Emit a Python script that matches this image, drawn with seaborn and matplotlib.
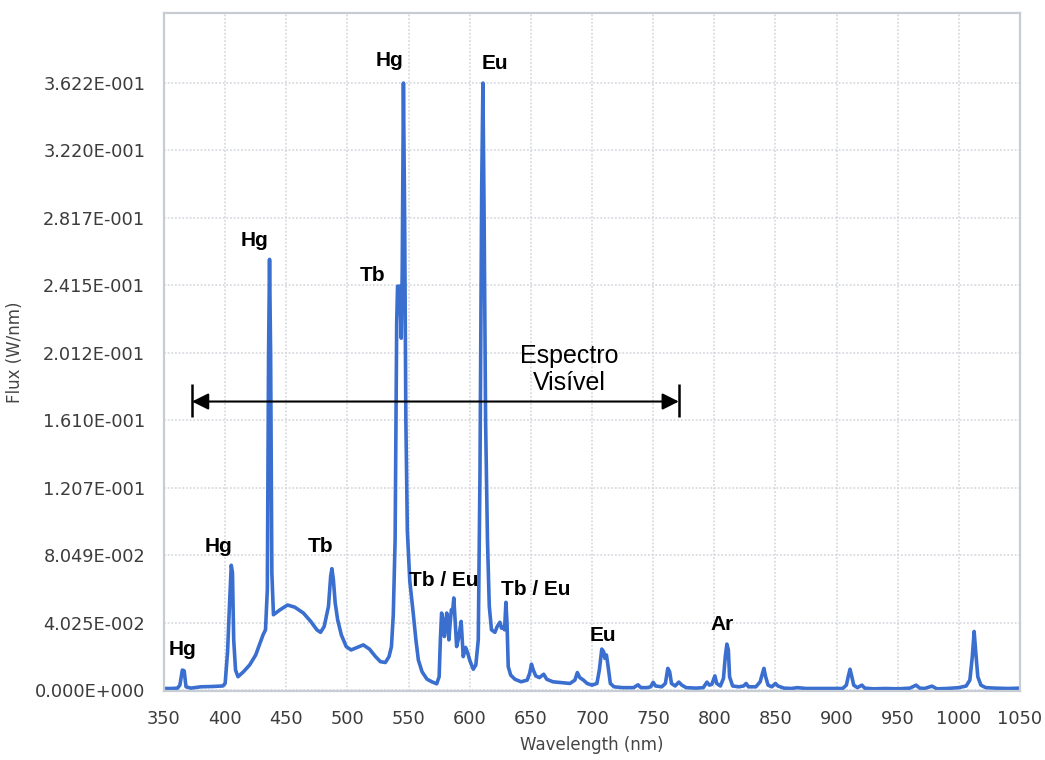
import matplotlib
matplotlib.use("Agg")
import matplotlib.pyplot as plt
import pandas as pd
import seaborn as sns

# ---- data ----
wavelength = [350, 356, 361, 363, 365, 366.5, 368, 372, 380, 390, 398, 400, 402, 403.5, 405, 406, 407, 408.5,
              410.5, 415, 420, 425, 431, 433, 434.5, 435.5, 436.3, 437.2, 438.2, 439.5, 445, 451, 457, 464,
              470, 475, 478, 481, 484.5, 486.3, 487.3, 488.5, 490, 492, 495, 499, 503, 508, 513, 518, 523,
              527, 531, 534, 536, 537.5, 539, 540.3, 541, 542.5, 543.2, 544, 544.8, 545.8, 546.8, 547.8,
              549, 551, 553.5, 556, 558, 561, 565, 569, 573, 575, 576, 577, 578.2, 579.3, 580.3, 581.2,
              582.2, 583, 584, 585, 586, 587, 588, 589.3, 591, 593, 594.7, 596.6, 598.2, 600.2, 602.9,
              605, 607, 608.4, 609.8, 610.8, 611.8, 613, 614.5, 616, 617.8, 620.6, 622.5, 624.7, 626,
              627.4, 628.5, 629.6, 630.5, 631.5, 633.5, 637, 642, 647, 649, 650.5, 652, 654, 657, 660.5,
              663, 668, 675, 682, 686, 688, 690, 693, 696, 700, 704, 706, 708, 709.5, 710.5, 711.8, 713,
              715, 718, 725, 734, 737.6, 740, 745, 748, 750, 752, 757, 760, 762, 763.5, 765, 768, 771,
              773.5, 777, 785, 791, 794, 796, 798, 800.5, 802, 805, 807.5, 809, 810.3, 811.5, 812.5, 815,
              820, 824, 826, 828, 834, 837.5, 839, 840.6, 842, 844, 847, 850, 852, 857, 863, 868, 875,
              890, 905, 908, 909.5, 911, 912.5, 914, 917, 920.7, 923, 930, 940, 950, 960, 965, 968, 972,
              978, 982, 990, 1000, 1006, 1009, 1011, 1012.5, 1014, 1015.5, 1018, 1022, 1030, 1040, 1050]
flux = [0.0010, 0.0010, 0.0012, 0.0030, 0.0120, 0.0115, 0.0020, 0.0012, 0.0020, 0.0022, 0.0025, 0.0040,
        0.0230, 0.0500, 0.0745, 0.0700, 0.0300, 0.0120, 0.0080, 0.0110, 0.0150, 0.0210, 0.0330, 0.0360,
        0.0600, 0.2000, 0.2570, 0.2000, 0.0700, 0.0450, 0.0480, 0.0508, 0.0495, 0.0460, 0.0410, 0.0360,
        0.0345, 0.0380, 0.0500, 0.0680, 0.0725, 0.0660, 0.0520, 0.0420, 0.0330, 0.0260, 0.0240, 0.0255,
        0.0270, 0.0245, 0.0200, 0.0170, 0.0165, 0.0200, 0.0260, 0.0450, 0.0900, 0.2200, 0.2410, 0.2410,
        0.2300, 0.2100, 0.2500, 0.3622, 0.2800, 0.1600, 0.0950, 0.0650, 0.0480, 0.0300, 0.0180, 0.0110,
        0.0066, 0.0050, 0.0038, 0.0080, 0.0300, 0.0460, 0.0420, 0.0320, 0.0380, 0.0460, 0.0400, 0.0300,
        0.0400, 0.0480, 0.0470, 0.0550, 0.0420, 0.0260, 0.0315, 0.0410, 0.0200, 0.0255, 0.0225, 0.0175,
        0.0125, 0.0150, 0.0300, 0.1300, 0.3000, 0.3622, 0.2800, 0.1600, 0.0900, 0.0500, 0.0360, 0.0345,
        0.0380, 0.0405, 0.0370, 0.0375, 0.0360, 0.0524, 0.0400, 0.0140, 0.0090, 0.0065, 0.0050, 0.0060,
        0.0100, 0.0155, 0.0120, 0.0085, 0.0075, 0.0095, 0.0065, 0.0050, 0.0045, 0.0040, 0.0060, 0.0105,
        0.0075, 0.0060, 0.0040, 0.0030, 0.0040, 0.0120, 0.0245, 0.0230, 0.0190, 0.0210, 0.0150, 0.0040,
        0.0020, 0.0015, 0.0015, 0.0032, 0.0015, 0.0015, 0.0020, 0.0047, 0.0025, 0.0020, 0.0040, 0.0130,
        0.0110, 0.0040, 0.0025, 0.0048, 0.0030, 0.0015, 0.0012, 0.0015, 0.0048, 0.0030, 0.0035, 0.0085,
        0.0040, 0.0025, 0.0070, 0.0200, 0.0275, 0.0240, 0.0080, 0.0025, 0.0020, 0.0025, 0.0040, 0.0020,
        0.0020, 0.0050, 0.0090, 0.0130, 0.0080, 0.0030, 0.0020, 0.0040, 0.0025, 0.0012, 0.0010, 0.0015,
        0.0010, 0.0010, 0.0010, 0.0030, 0.0080, 0.0125, 0.0080, 0.0030, 0.0015, 0.0030, 0.0012, 0.0008,
        0.0010, 0.0008, 0.0012, 0.0030, 0.0012, 0.0010, 0.0024, 0.0008, 0.0010, 0.0015, 0.0025, 0.0060,
        0.0200, 0.0350, 0.0210, 0.0080, 0.0030, 0.0015, 0.0012, 0.0010, 0.0012]

x_ticks = [350, 400, 450, 500, 550, 600, 650, 700, 750, 800, 850, 900, 950, 1000, 1050]
y_ticks = [0.0, 0.04025, 0.08049, 0.1207, 0.1610, 0.2012, 0.2415, 0.2817, 0.3220, 0.3622]
y_tick_labels = ["0.000E+000", "4.025E-002", "8.049E-002", "1.207E-001", "1.610E-001",
                 "2.012E-001", "2.415E-001", "2.817E-001", "3.220E-001", "3.622E-001"]

peak_labels = ["Hg", "Hg", "Hg", "Tb", "Tb", "Hg", "Eu", "Tb / Eu", "Tb / Eu", "Eu", "Ar"]
peak_label_x = [365.5, 394.2, 423.6, 478.4, 520.9, 534.0, 620.7, 579.0, 654.2, 709.0, 806.3]
peak_label_y = [0.0209, 0.0822, 0.2652, 0.0822, 0.2443, 0.3725, 0.3707, 0.0620, 0.0566, 0.0292, 0.0358]

visible_range = [372.9, 771.0]
visible_text = "Espectro\nVisível"

# ---- plot ----
sns.set_theme(style="white")
plt.rcParams["font.family"] = ["DejaVu Sans"]

fig = plt.figure(figsize=(10.45, 7.6), dpi=100)
ax = fig.add_axes([164 / 1045, 69 / 760, 856 / 1045, 678 / 760])

df = pd.DataFrame({"Wavelength": wavelength, "Flux": flux})
sns.lineplot(data=df, x="Wavelength", y="Flux", ax=ax, color="#3a6fd0",
             linewidth=2.6, estimator=None, sort=False)

ax.set_xlim(350, 1050)
ax.set_ylim(-0.0005, 0.404)
ax.set_xticks(x_ticks)
ax.set_xticklabels([str(v) for v in x_ticks])
ax.set_yticks(y_ticks)
ax.set_yticklabels(y_tick_labels)

ax.grid(True, linestyle=(0, (1.2, 1.2)), color="#d2d6dc", linewidth=1.1)
ax.tick_params(axis="both", length=8.5, width=1.0, color="#d2d6dc", pad=5,
               labelsize=12.8, labelcolor="#3c3c3c")
for s in ax.spines.values():
    s.set_color("#c8ccd3")
    s.set_linewidth(1.6)

ax.set_xlabel("Wavelength (nm)", fontsize=12, color="#454545", labelpad=6)
ax.set_ylabel("Flux (W/nm)", fontsize=12, color="#454545", labelpad=8)

for t, x, y in zip(peak_labels, peak_label_x, peak_label_y):
    ax.text(x, y, t, ha="center", va="baseline", fontsize=15, fontweight="bold",
            family="Liberation Sans", color="black")

arrow_y = 0.1722
ax.annotate("", xy=(visible_range[1], arrow_y), xytext=(visible_range[0], arrow_y),
            arrowprops=dict(arrowstyle="<|-|>", color="black", lw=1.5,
                            mutation_scale=25, shrinkA=0, shrinkB=0))
ax.vlines(visible_range, 0.1627, 0.1824, color="black", linewidth=1.8)
ax.text(681.3, 0.1913, visible_text, ha="center", va="center", fontsize=18,
        family="Liberation Sans", color="black", linespacing=1.2)

fig.savefig("out.png", dpi=100)
